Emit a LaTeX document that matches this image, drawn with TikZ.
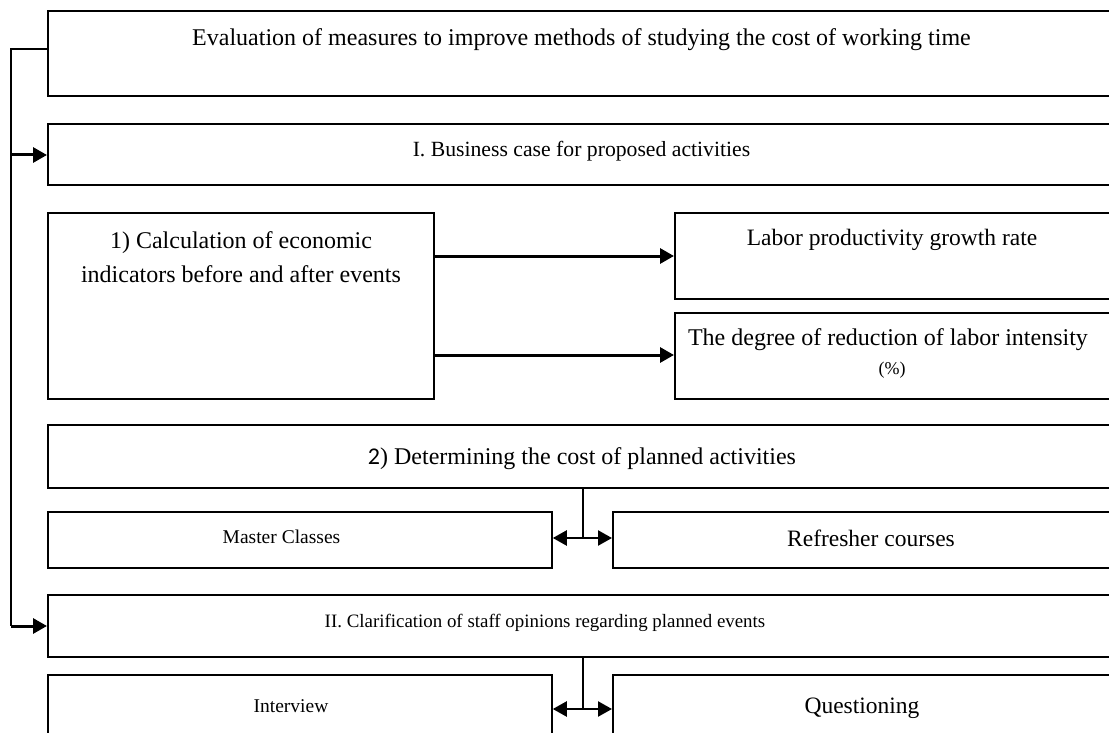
\documentclass[tikz,border=0pt]{standalone}
\usepackage{fontspec}
\setmainfont{Liberation Serif}
\newfontfamily\carl{Carlito}
\usetikzlibrary{arrows.meta}
\tikzset{
  box/.style={draw=black, line width=1.8pt, fill=none},
  txt/.style={inner sep=0pt, anchor=base, align=center},
  conn/.style={line width=2pt},
  arr/.style={line width=3pt, -{Triangle[length=14pt,width=15pt]}},
  darr/.style={line width=2.4pt, {Triangle[length=14pt,width=15pt]}-{Triangle[length=14pt,width=15pt]}},
}
\newcommand{\fs}[1]{\fontsize{#1}{#1}\selectfont}
\begin{document}
\begin{tikzpicture}[x=1pt,y=-1pt]
\useasboundingbox (0,0) rectangle (1109,733);
% boxes
\node[box, minimum width=1069pt, minimum height=85pt, anchor=north west] (top) at (47,10) {};
\node[box, minimum width=1069pt, minimum height=61pt, anchor=north west] (b1) at (47,123) {};
\node[box, minimum width=386pt, minimum height=186pt, anchor=north west] (calc) at (47,212) {};
\node[box, minimum width=442pt, minimum height=86pt, anchor=north west] (lab) at (674,212) {};
\node[box, minimum width=442pt, minimum height=86pt, anchor=north west] (deg) at (674,312) {};
\node[box, minimum width=1069pt, minimum height=63pt, anchor=north west] (cost) at (47,424) {};
\node[box, minimum width=504pt, minimum height=56pt, anchor=north west] (mc) at (47,511) {};
\node[box, minimum width=504pt, minimum height=56pt, anchor=north west] (rc) at (612,511) {};
\node[box, minimum width=1069pt, minimum height=62pt, anchor=north west] (b2) at (47,594) {};
\node[box, minimum width=504pt, minimum height=70pt, anchor=north west] (iv) at (47,674) {};
\node[box, minimum width=504pt, minimum height=70pt, anchor=north west] (qu) at (612,674) {};
% texts
\node[txt] (t-top) at (581.5,46) {\fs{24}Evaluation of measures to improve methods of studying the cost of working time};
\node[txt] (t-b1) at (581.5,157) {\fs{21.7}I. Business case for proposed activities};
\node[txt] (t-calc1) at (241,248) {\fs{24}1) Calculation of economic};
\node[txt] (t-calc2) at (241,282) {\fs{24}indicators before and after events};
\node[txt] (t-lab) at (892,245) {\fs{23.5}Labor productivity growth rate};
\node[txt] (t-deg1) at (888,345) {\fs{24}The degree of reduction of labor intensity};
\node[txt] (t-deg2) at (892,374) {\fs{18}(\%)};
\node[txt] (t-cost) at (582,464) {\fs{24}{\carl 2}) Determining the cost of planned activities};
\node[txt] (t-mc) at (281.5,543) {\fs{19.5}Master Classes};
\node[txt] (t-rc) at (871,546) {\fs{23.5}Refresher courses};
\node[txt] (t-b2) at (545,627) {\fs{18.9}II. Clarification of staff opinions regarding planned events};
\node[txt] (t-iv) at (291,712) {\fs{19.5}Interview};
\node[txt] (t-qu) at (862,713) {\fs{23.5}Questioning};
% left connector
\coordinate (l0) at (11,49);
\coordinate (l1) at (11,155);
\coordinate (l2) at (11,626);
\draw[conn] (top.north west |- l0) -- (l0) -- (l2);
\draw[arr] (l1) -- (b1.west |- l1);
\draw[arr] (l2) -- (b2.west |- l2);
% calc arrows
\coordinate (c1) at (433,256);
\coordinate (c2) at (433,355);
\draw[arr] (calc.east |- c1) -- (lab.west |- c1);
\draw[arr] (calc.east |- c2) -- (deg.west |- c2);
% double arrows
\coordinate (j1) at (583,538);
\coordinate (j2) at (583,709);
\draw[conn] (cost.south -| j1) -- (j1);
\draw[darr] (mc.east |- j1) -- (rc.west |- j1);
\draw[conn] (b2.south -| j2) -- (j2);
\draw[darr] (iv.east |- j2) -- (qu.west |- j2);
\end{tikzpicture}
\end{document}
